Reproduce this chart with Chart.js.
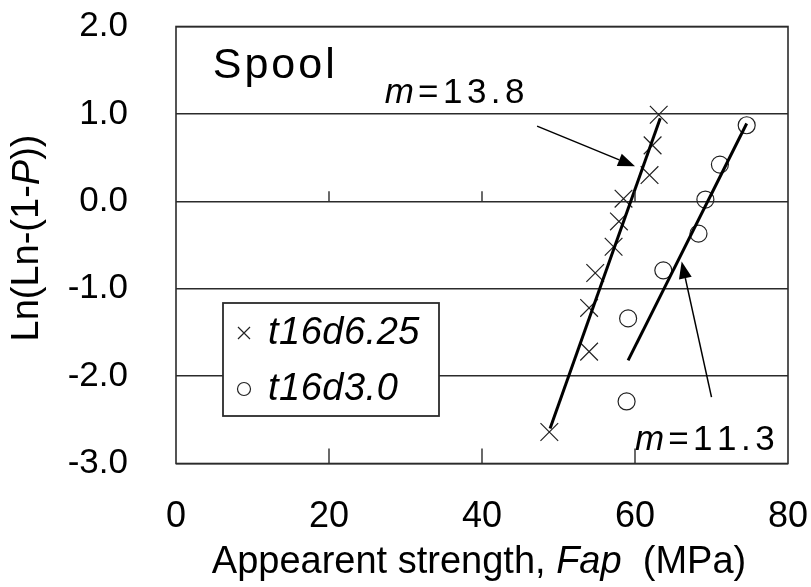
<!DOCTYPE html>
<html>
<head>
<meta charset="utf-8">
<script src="https://cdn.jsdelivr.net/npm/chart.js@4.4.1/dist/chart.umd.min.js"></script>
<style>
  html, body { margin: 0; padding: 0; background: #fff; }
  canvas { display: block; }
</style>
</head>
<body>
<canvas id="weibull" width="811" height="587"></canvas>
<script>
// ---- data -------------------------------------------------------------
const xTickValues = [0, 20, 40, 60, 80];
const yTickValues = [2, 1, 0, -1, -2, -3];

const seriesNameA = 't16d6.25';
const strengthA = [63.1, 62.3, 61.9, 58.5, 57.9, 57.2, 54.8, 54.0, 54.0, 48.8];
const lnlnA     = [0.99, 0.64, 0.30, 0.03, -0.23, -0.52, -0.82, -1.22, -1.72, -2.64];

const seriesNameB = 't16d3.0';
const strengthB = [74.6, 71.1, 69.2, 68.3, 63.7, 59.1, 58.9];
const lnlnB     = [0.87, 0.42, 0.02, -0.37, -0.79, -1.34, -2.29];

// regression lines, end points
const fitStrengthA = [48.9, 63.3];
const fitLnlnA     = [-2.60, 0.95];
const fitStrengthB = [59.1, 74.6];
const fitLnlnB     = [-1.82, 0.89];

const modulusA = '13.8';
const modulusB = '11.3';
const panelName = 'Spool';

// ---- helpers ----------------------------------------------------------
const FONT = '"Liberation Sans", Arial, Helvetica, sans-serif';
const INK = '#000';
const LINE = '#2b2b2b';

const toPoints = (xs, ys) => xs.map((x, i) => ({ x: x, y: ys[i] }));

// draw a list of text runs (each with its own font / letter spacing)
function runsWidth(ctx, runs) {
  let w = 0;
  runs.forEach(r => {
    ctx.font = r.font;
    for (const ch of r.text) w += ctx.measureText(ch).width + (r.spacing || 0);
  });
  const last = runs[runs.length - 1];
  return w - (last.spacing || 0);
}
function drawRuns(ctx, runs, x, y, align) {
  let cx = align === 'center' ? x - runsWidth(ctx, runs) / 2 : x;
  ctx.textAlign = 'left';
  runs.forEach(r => {
    ctx.font = r.font;
    for (const ch of r.text) {
      ctx.fillText(ch, cx, y);
      cx += ctx.measureText(ch).width + (r.spacing || 0);
    }
  });
}

function arrow(ctx, x0, y0, x1, y1, headLen, headHalf) {
  const ang = Math.atan2(y1 - y0, x1 - x0);
  const bx = x1 - Math.cos(ang) * headLen;
  const by = y1 - Math.sin(ang) * headLen;
  ctx.beginPath();
  ctx.moveTo(x0, y0);
  ctx.lineTo(bx, by);
  ctx.stroke();
  ctx.beginPath();
  ctx.moveTo(x1, y1);
  ctx.lineTo(bx + Math.sin(ang) * headHalf, by - Math.cos(ang) * headHalf);
  ctx.lineTo(bx - Math.sin(ang) * headHalf, by + Math.cos(ang) * headHalf);
  ctx.closePath();
  ctx.fill();
}

// ---- plugins ----------------------------------------------------------
const framePlugin = {
  id: 'frame',
  afterDatasetsDraw(chart) {
    const { ctx, chartArea: a, scales: { x, y } } = chart;
    ctx.save();
    ctx.strokeStyle = LINE;
    ctx.lineWidth = 1.6;
    ctx.strokeRect(a.left, a.top, a.right - a.left, a.bottom - a.top);
    // inward tick marks on the bottom edge and on the zero line
    ctx.lineWidth = 1.4;
    const y0 = y.getPixelForValue(0);
    xTickValues.slice(1, -1).forEach(v => {
      const px = x.getPixelForValue(v);
      ctx.beginPath();
      ctx.moveTo(px, a.bottom);
      ctx.lineTo(px, a.bottom - 15);
      ctx.moveTo(px, y0);
      ctx.lineTo(px, y0 - 10);
      ctx.stroke();
    });
    ctx.restore();
  }
};

const notesPlugin = {
  id: 'notes',
  afterDatasetsDraw(chart, args, opts) {
    const { ctx, scales: { x, y } } = chart;
    ctx.save();
    ctx.fillStyle = INK;
    ctx.strokeStyle = INK;
    ctx.textBaseline = 'alphabetic';

    // panel caption
    drawRuns(ctx, [{ text: panelName, font: '43px ' + FONT, spacing: 3 }],
      x.getPixelForValue(opts.caption[0]), y.getPixelForValue(opts.caption[1]));

    // modulus labels
    opts.labels.forEach(l => {
      drawRuns(ctx, [
        { text: 'm', font: 'italic 35px ' + FONT, spacing: 4 },
        { text: '=' + l.text, font: '35px ' + FONT, spacing: 4.5 }
      ], x.getPixelForValue(l.at[0]), y.getPixelForValue(l.at[1]));
    });

    // arrows
    ctx.lineWidth = 1.5;
    opts.arrows.forEach(a => {
      arrow(ctx, x.getPixelForValue(a.from[0]), y.getPixelForValue(a.from[1]),
        x.getPixelForValue(a.to[0]), y.getPixelForValue(a.to[1]), 17, 6.5);
    });
    ctx.restore();
  }
};

const boxLegendPlugin = {
  id: 'boxLegend',
  afterDatasetsDraw(chart, args, opts) {
    const { ctx, chartArea: a } = chart;
    const left = a.left + opts.left, top = a.top + opts.top;
    ctx.save();
    ctx.fillStyle = '#fff';
    ctx.fillRect(left, top, opts.width, opts.height);
    ctx.strokeStyle = LINE;
    ctx.lineWidth = 1.8;
    ctx.strokeRect(left, top, opts.width, opts.height);
    opts.items.forEach((it, i) => {
      const ds = chart.data.datasets[it];
      const cy = top + opts.rowTop + i * opts.rowGap;
      ctx.fillStyle = 'rgba(0,0,0,0)';
      ctx.strokeStyle = ds.borderColor;
      ctx.lineWidth = ds.borderWidth;
      Chart.helpers.drawPoint(ctx, {
        pointStyle: ds.pointStyle, radius: opts.markerRadius[i], borderWidth: ds.borderWidth
      }, left + 21, cy);
      ctx.fillStyle = INK;
      ctx.textBaseline = 'middle';
      drawRuns(ctx, [{ text: ds.label, font: 'italic 38px ' + FONT, spacing: 0.5 }], left + 45, cy);
    });
    ctx.restore();
  }
};

const axisTitlesPlugin = {
  id: 'axisTitles',
  afterDraw(chart) {
    const { ctx, chartArea: a } = chart;
    ctx.save();
    ctx.fillStyle = INK;
    ctx.textBaseline = 'alphabetic';
    drawRuns(ctx, [
      { text: 'Appearent strength, ', font: '38px ' + FONT },
      { text: 'Fap', font: 'italic 38px ' + FONT },
      { text: '  (MPa)', font: '38px ' + FONT }
    ], (a.left + a.right) / 2 - 3, 573, 'center');

    ctx.translate(28, 238);
    ctx.rotate(-Math.PI / 2);
    ctx.textBaseline = 'middle';
    drawRuns(ctx, [
      { text: 'Ln(Ln-(1-', font: '38px ' + FONT },
      { text: 'P', font: 'italic 38px ' + FONT },
      { text: '))', font: '38px ' + FONT }
    ], 0, 0, 'center');
    ctx.restore();
  }
};

// ---- chart ------------------------------------------------------------
new Chart(document.getElementById('weibull'), {
  type: 'scatter',
  data: {
    datasets: [
      {
        label: seriesNameA,
        data: toPoints(strengthA, lnlnA),
        pointStyle: 'crossRot',
        pointRadius: 12.5,
        borderColor: '#222',
        backgroundColor: 'transparent',
        borderWidth: 1.2,
        order: 2
      },
      {
        label: seriesNameB,
        data: toPoints(strengthB, lnlnB),
        pointStyle: 'circle',
        pointRadius: 8.5,
        borderColor: '#222',
        backgroundColor: 'transparent',
        borderWidth: 1.2,
        order: 2
      },
      {
        type: 'line',
        label: 'fit ' + seriesNameA,
        data: toPoints(fitStrengthA, fitLnlnA),
        borderColor: '#000',
        borderWidth: 3,
        pointRadius: 0,
        fill: false,
        order: 1
      },
      {
        type: 'line',
        label: 'fit ' + seriesNameB,
        data: toPoints(fitStrengthB, fitLnlnB),
        borderColor: '#000',
        borderWidth: 3,
        pointRadius: 0,
        fill: false,
        order: 1
      }
    ]
  },
  options: {
    responsive: false,
    animation: false,
    devicePixelRatio: 1,
    layout: { padding: { top: 26.5, right: 23, bottom: 0, left: 0 } },
    plugins: {
      legend: { display: false },
      tooltip: { enabled: false },
      boxLegend: {
        left: 47, top: 276.5, width: 216, height: 113,
        rowTop: 30, rowGap: 56, markerRadius: [8.5, 6.5], items: [0, 1]
      },
      notes: {
        caption: [4.8, 1.41],
        labels: [
          { text: modulusA, at: [27.3, 1.125] },
          { text: modulusB, at: [60.0, -2.846] }
        ],
        arrows: [
          { from: [47.2, 0.86], to: [60.0, 0.40] },
          { from: [70.0, -2.24], to: [66.1, -0.69] }
        ]
      }
    },
    scales: {
      x: {
        type: 'linear',
        min: 0, max: 80,
        afterBuildTicks: s => { s.ticks = xTickValues.map(v => ({ value: v })); },
        ticks: { color: INK, font: { family: FONT, size: 36 }, padding: 32, maxRotation: 0 },
        grid: { display: false, drawTicks: false },
        border: { display: false },
        afterFit: s => { s.height = 123.5; s.paddingLeft = 0; s.paddingRight = 20; }
      },
      y: {
        type: 'linear',
        min: -3, max: 2,
        afterBuildTicks: s => { s.ticks = yTickValues.map(v => ({ value: v })); },
        ticks: {
          color: INK, font: { family: FONT, size: 35 }, padding: 48,
          callback: v => v.toFixed(1)
        },
        grid: { color: LINE, lineWidth: 1.6, drawTicks: false },
        border: { display: false },
        afterFit: s => { s.width = 176; s.paddingTop = 20; s.paddingBottom = 20; }
      }
    }
  },
  plugins: [framePlugin, boxLegendPlugin, notesPlugin, axisTitlesPlugin]
});
</script>
</body>
</html>
